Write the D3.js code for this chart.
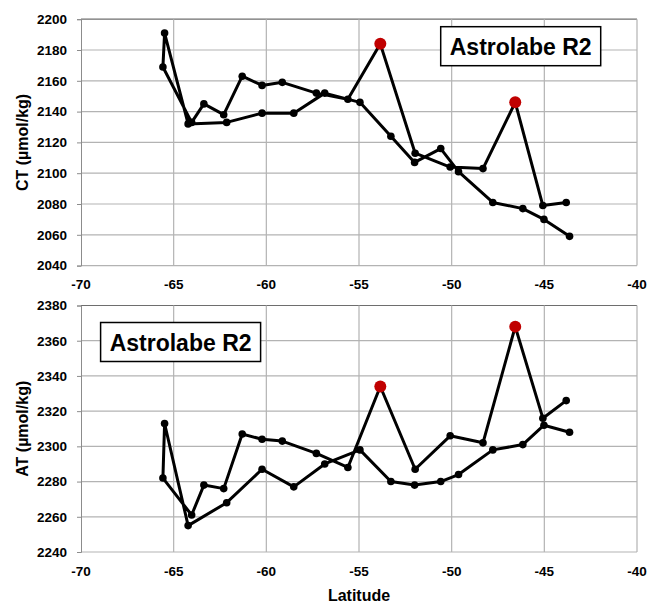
<!DOCTYPE html>
<html>
<head>
<meta charset="utf-8">
<script src="https://cdn.jsdelivr.net/npm/d3@7"></script>
<style>
  body { margin: 0; background: #fff; }
  text { font-family: "Liberation Sans", Arial, sans-serif; font-weight: bold; fill: #000; }
</style>
</head>
<body>
<script>
// station latitudes along the track (north -> south, then back north)
var latitude = [-43.64, -45.02, -46.16, -47.78, -49.63, -50.59, -52.0, -53.28, -54.95, -56.85,
                -58.52, -60.23, -62.14, -64.22, -65.49, -65.58, -64.03, -63.37, -62.3, -61.3,
                -60.23, -59.14, -57.3, -55.6, -53.85, -51.97, -50.08, -48.31, -46.57, -45.08, -43.82];

// dissolved inorganic carbon
var ct = [2059, 2070, 2077, 2081, 2101, 2116, 2107, 2124, 2146, 2152,
          2139, 2139, 2133, 2132, 2191, 2169, 2133, 2145, 2138, 2163,
          2157, 2159, 2152, 2148, 2184, 2113, 2104, 2103, 2146, 2079, 2081];

// total alkalinity
var at = [2308, 2312, 2301, 2298, 2284, 2280, 2278, 2280, 2298, 2290,
          2277, 2287, 2268, 2255, 2313, 2282, 2261, 2278, 2276, 2307,
          2304, 2303, 2296, 2288, 2334, 2287, 2306, 2302, 2368, 2316, 2326];

// highlighted stations (red)
var flagged = [24, 28];

var xTicks = [-70, -65, -60, -55, -50, -45, -40];
var ctTicks = [2040, 2060, 2080, 2100, 2120, 2140, 2160, 2180, 2200];
var atTicks = [2240, 2260, 2280, 2300, 2320, 2340, 2360, 2380];

var width = 649,
    height = 604;

var svg = d3.select("body")
    .append("svg")
    .attr("width", width)
    .attr("height", height);

var x = d3.scaleLinear()
    .domain([-70, -40])
    .range([81, 637]);

//draw one panel
function drawPanel(values, ticks, top, bottom, yTitle, box, showXTitle) {
    var y = d3.scaleLinear()
        .domain([ticks[0], ticks[ticks.length - 1]])
        .range([bottom, top]);

    var g = svg.append("g");

    //horizontal gridlines
    g.selectAll(".hgrid")
        .data(ticks)
        .enter()
        .append("line")
        .attr("x1", x(-70))
        .attr("x2", x(-40))
        .attr("y1", function(d) { return y(d); })
        .attr("y2", function(d) { return y(d); })
        .attr("stroke", function(d, i) { return i == ticks.length - 1 ? "#6e6e6e" : "#b3b3b3"; })
        .attr("stroke-width", 1.2);

    //vertical gridlines
    g.selectAll(".vgrid")
        .data(xTicks.slice(1))
        .enter()
        .append("line")
        .attr("x1", function(d) { return x(d); })
        .attr("x2", function(d) { return x(d); })
        .attr("y1", top)
        .attr("y2", bottom)
        .attr("stroke", "#b3b3b3")
        .attr("stroke-width", 1.2);

    //y axis
    var yAxis = d3.axisLeft(y)
        .tickValues(ticks)
        .tickFormat(d3.format("d"))
        .tickSize(4)
        .tickPadding(10);

    var ya = g.append("g")
        .attr("transform", "translate(" + x(-70) + ",0)")
        .call(yAxis);
    ya.select(".domain").attr("stroke", "#8c8c8c");
    ya.selectAll(".tick line").attr("stroke", "#8c8c8c");
    ya.selectAll("text")
        .style("font-size", "13.5px")
        .style("font-family", "Liberation Sans, Arial, sans-serif")
        .style("font-weight", "bold");

    //x tick labels under the panel
    g.selectAll(".xlab")
        .data(xTicks)
        .enter()
        .append("text")
        .attr("x", function(d) { return x(d); })
        .attr("y", bottom + 23.5)
        .attr("text-anchor", "middle")
        .style("font-size", "13.5px")
        .text(function(d) { return d; });

    //y title
    g.append("text")
        .attr("transform", "translate(28," + ((top + bottom) / 2) + ") rotate(-90)")
        .attr("text-anchor", "middle")
        .style("font-size", "16px")
        .text(yTitle);

    if (showXTitle) {
        g.append("text")
            .attr("x", (x(-70) + x(-40)) / 2)
            .attr("y", bottom + 49)
            .attr("text-anchor", "middle")
            .style("font-size", "16px")
            .text("Latitude");
    }

    //track line
    var line = d3.line()
        .x(function(d, i) { return x(latitude[i]); })
        .y(function(d) { return y(d); });

    g.append("path")
        .datum(values)
        .attr("d", line)
        .attr("fill", "none")
        .attr("stroke", "#000")
        .attr("stroke-width", 3)
        .attr("stroke-linejoin", "round");

    g.selectAll(".dot")
        .data(values)
        .enter()
        .append("circle")
        .attr("cx", function(d, i) { return x(latitude[i]); })
        .attr("cy", function(d) { return y(d); })
        .attr("r", 3.8)
        .attr("fill", "#000");

    g.selectAll(".red")
        .data(flagged)
        .enter()
        .append("circle")
        .attr("cx", function(i) { return x(latitude[i]); })
        .attr("cy", function(i) { return y(values[i]); })
        .attr("r", 6)
        .attr("fill", "#c00000");

    //cruise label box
    g.append("rect")
        .attr("x", box[0])
        .attr("y", box[1])
        .attr("width", 160)
        .attr("height", 39)
        .attr("fill", "#fff")
        .attr("stroke", "#000")
        .attr("stroke-width", 1.5);

    g.append("text")
        .attr("x", box[0] + 80)
        .attr("y", box[1] + 28)
        .attr("text-anchor", "middle")
        .style("font-size", "23px")
        .text("Astrolabe R2");
}

drawPanel(ct, ctTicks, 19.2, 265.6, "CT (µmol/kg)", [440.7, 26.7], false);
drawPanel(at, atTicks, 305.5, 552, "AT (µmol/kg)", [100.6, 322.5], true);
</script>
</body>
</html>
